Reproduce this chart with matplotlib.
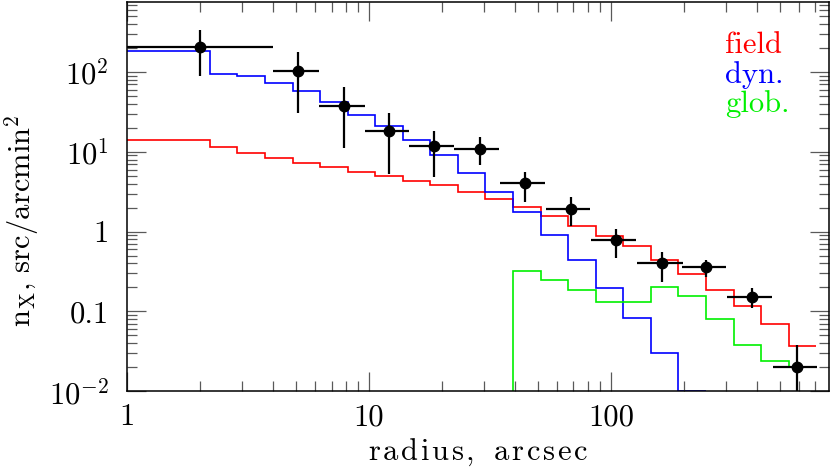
import numpy as np
import matplotlib
matplotlib.use("Agg")
import matplotlib.pyplot as plt
from matplotlib.ticker import NullFormatter, LogLocator

plt.rcParams['font.family'] = 'serif'
plt.rcParams['font.serif'] = ['cmr10']
plt.rcParams['mathtext.fontset'] = 'cm'
plt.rcParams['axes.unicode_minus'] = False
plt.rcParams['axes.formatter.use_mathtext'] = True

# bin edges of the model histograms (arcsec)
edges = [1, 2.2, 2.86, 3.71, 4.83, 6.27, 8.16, 10.6, 13.8, 17.9, 23.3, 30.3,
         39.4, 51.2, 66.5, 86.5, 112, 146, 190, 247, 321, 417, 542, 706]

field = [14.2, 11.5, 9.73, 8.27, 7.30, 6.44, 5.62, 4.91, 4.34, 3.79, 3.13, 2.58,
         2.03, 1.59, 1.19, 0.886, 0.664, 0.443, 0.293, 0.186, 0.118, 0.0691, 0.037]
dyn = [181, 95, 88, 72.8, 58.3, 42.1, 28.6, 21.2, 14.0, 9.0, 5.46, 3.16,
       1.76, 0.91, 0.443, 0.197, 0.0822, 0.0305, 0.0101]
glob = [1e-4, 0.319, 0.251, 0.186, 0.133, 0.132, 0.201, 0.157, 0.0813, 0.0384, 0.024, 0.0204]

# observed points
r = np.array([2.0, 5.1, 7.9, 12.1, 18.6, 28.7, 44.1, 68.1, 105, 162, 248, 384, 589])
n = np.array([206, 103, 37.8, 18.2, 11.7, 10.9, 4.01, 1.93, 0.789, 0.403, 0.365, 0.153, 0.020])
r_lo = np.array([1.0, 4.0, 6.2, 9.6, 14.7, 22.5, 34.8, 53.9, 82.7, 128, 196, 303, 465])
r_hi = np.array([4.0, 6.2, 9.6, 14.6, 22.5, 34.5, 53.4, 82, 127, 198, 300, 462, 713])
n_lo = np.array([88, 30.3, 11.3, 5.3, 4.82, 6.75, 2.38, 1.18, 0.466, 0.237, 0.274, 0.11, 0.005])
n_hi = np.array([333, 176, 64.9, 30.6, 18.0, 15.3, 5.57, 2.75, 1.07, 0.553, 0.443, 0.195, 0.038])


def spaced(s, gap=0.1):
    # letter-spaced upright text, like the plotting package's font
    parts = [r'\ ' if c == ' ' else c for c in s]
    return r'$\mathrm{' + (r'\hspace{%g}' % gap).join(parts) + '}$'


fig = plt.figure(figsize=(8.3, 4.68), dpi=100)
ax = fig.add_axes([0.1530, 0.1639, 0.8458, 0.8325])
ax.set_xscale('log')
ax.set_yscale('log')

ax.stairs(field, edges, baseline=None, color='#ff0000', lw=1.2)
ax.stairs(dyn, edges[:len(dyn) + 1], baseline=None, color='#0000ff', lw=1.2)
ax.stairs(glob, edges[11:], baseline=None, color='#00f000', lw=1.2)

ax.errorbar(r, n, xerr=[r - r_lo, r_hi - r], yerr=[n - n_lo, n_hi - n],
            fmt='o', color='black', ms=7.5, elinewidth=1.6, capsize=0, zorder=5)

ax.set_xlim(1, 796)
ax.set_ylim(0.01, 760)

ax.set_xticks([1, 10, 100])
ax.set_xticklabels(['1', '10', '100'])
ax.set_yticks([0.01, 0.1, 1, 10, 100])
ax.set_yticklabels([r'$10^{-2}$', '0.1', '1', r'$10^{1}$', r'$10^{2}$'])
ax.xaxis.set_minor_locator(LogLocator(base=10, subs=np.arange(2, 10)))
ax.yaxis.set_minor_locator(LogLocator(base=10, subs=np.arange(2, 10)))
ax.xaxis.set_minor_formatter(NullFormatter())
ax.yaxis.set_minor_formatter(NullFormatter())

ax.tick_params(which='both', direction='in', top=True, right=True, color='0.35', width=0.9)
ax.tick_params(which='major', length=14, labelsize=22)
ax.tick_params(which='minor', length=7)
ax.tick_params(axis='y', which='major', pad=13)
ax.tick_params(axis='x', which='major', pad=9)
for s in ax.spines.values():
    s.set_linewidth(1.1)

ax.set_xlabel(spaced('radius, arcsec'), fontsize=22, labelpad=4)
fig.text(21.5 / 830, 1 - 221 / 468, r'n$_{\rm X}$, src/arcmin$^2$', rotation=90,
         ha='center', va='center', fontsize=22)

fig.text(725 / 830, 1 - 53 / 468, 'field', color='#ff0000', fontsize=22, va='baseline')
fig.text(725 / 830, 1 - 83 / 468, 'dyn.', color='#0000ff', fontsize=22, va='baseline')
fig.text(725 / 830, 1 - 112 / 468, 'glob.', color='#00f000', fontsize=22, va='baseline')

fig.savefig('out.png', dpi=100)
